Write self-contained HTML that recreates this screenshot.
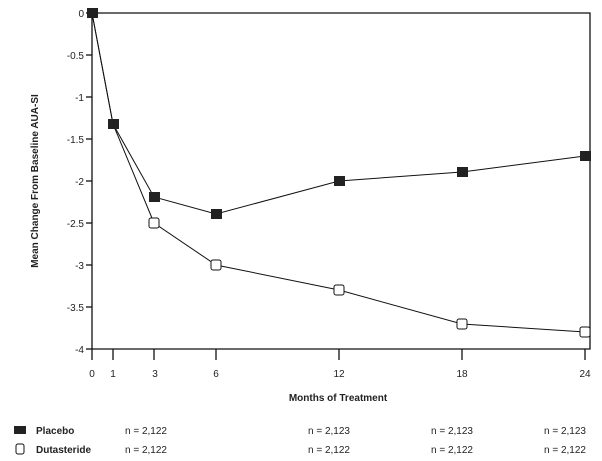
<!DOCTYPE html><html><head><style>body{margin:0;background:#fff}svg{display:block}text{font-family:"Liberation Sans",sans-serif;fill:#222}</style></head><body>
<svg width="602" height="461" viewBox="0 0 602 461">
<g stroke="#111" stroke-width="1.3" fill="none">
<path d="M92 13H590V349H92Z"/>
</g>
<g font-size="10" text-anchor="end" stroke="none">
<text x="84" y="17">0</text><text x="84" y="59">-0.5</text><text x="84" y="101">-1</text><text x="84" y="143">-1.5</text><text x="84" y="185">-2</text><text x="84" y="227">-2.5</text><text x="84" y="269">-3</text><text x="84" y="311">-3.5</text><text x="84" y="353">-4</text>
</g>
<g stroke="#111" stroke-width="1.3"><line x1="86" y1="13" x2="92" y2="13"/><line x1="86" y1="55" x2="92" y2="55"/><line x1="86" y1="97" x2="92" y2="97"/><line x1="86" y1="139" x2="92" y2="139"/><line x1="86" y1="181" x2="92" y2="181"/><line x1="86" y1="223" x2="92" y2="223"/><line x1="86" y1="265" x2="92" y2="265"/><line x1="86" y1="307" x2="92" y2="307"/><line x1="86" y1="349" x2="92" y2="349"/>
<line x1="92" y1="349" x2="92" y2="360"/><line x1="113" y1="349" x2="113" y2="360"/><line x1="154" y1="349" x2="154" y2="360"/><line x1="216" y1="349" x2="216" y2="360"/><line x1="339" y1="349" x2="339" y2="360"/><line x1="462" y1="349" x2="462" y2="360"/><line x1="585" y1="349" x2="585" y2="360"/></g>
<g font-size="10" text-anchor="middle"><text x="92" y="377">0</text><text x="113" y="377">1</text><text x="155" y="377">3</text><text x="216" y="377">6</text><text x="339" y="377">12</text><text x="462" y="377">18</text><text x="585" y="377">24</text>
<text x="338" y="401" font-weight="bold" font-size="10">Months of Treatment</text></g>
<text transform="translate(38,181) rotate(-90)" text-anchor="middle" font-size="10" font-weight="bold">Mean Change From Baseline AUA-SI</text>
<g fill="none" stroke="#111" stroke-width="1">
<polyline points="92,13 113,124 154,197 216,214 339,181 462,172 585,156"/>
<polyline points="92,13 113,124 154,223 216,265 339,290 462,324 585,332"/>
</g>
<g fill="#222"><rect x="87" y="8" width="11" height="10"/><rect x="108" y="119" width="11" height="10"/><rect x="149" y="192" width="11" height="10"/><rect x="211" y="209" width="11" height="10"/><rect x="334" y="176" width="11" height="10"/><rect x="457" y="167" width="11" height="10"/><rect x="580" y="151" width="11" height="10"/></g>
<g fill="#fff" stroke="#111" stroke-width="1"><rect x="149" y="218" width="10" height="10" rx="2"/><rect x="211" y="260" width="10" height="10" rx="2"/><rect x="334" y="285" width="10" height="10" rx="2"/><rect x="457" y="319" width="10" height="10" rx="2"/><rect x="580" y="327" width="10" height="10" rx="2"/></g>
<rect x="14" y="426" width="12" height="8" fill="#222"/>
<rect x="16" y="444" width="8" height="10" rx="2" fill="#fff" stroke="#111"/>
<g font-size="10" font-weight="bold"><text x="36" y="434">Placebo</text><text x="36" y="453">Dutasteride</text></g>
<g font-size="10" text-anchor="middle"><text x="146" y="434">n = 2,122</text><text x="329" y="434">n = 2,123</text><text x="452" y="434">n = 2,123</text><text x="565" y="434">n = 2,123</text>
<text x="146" y="453">n = 2,122</text><text x="329" y="453">n = 2,122</text><text x="452" y="453">n = 2,122</text><text x="565" y="453">n = 2,122</text></g>
</svg></body></html>
